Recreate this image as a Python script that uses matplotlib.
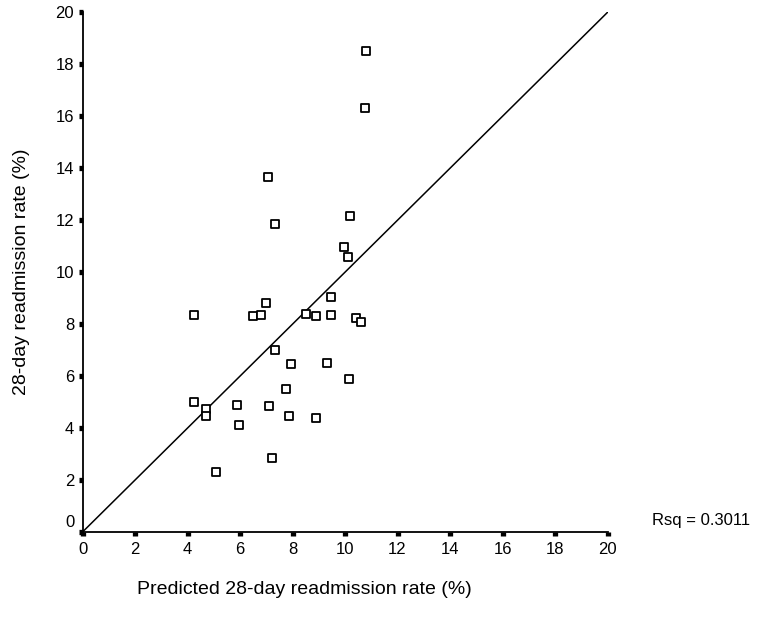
import matplotlib
matplotlib.use("Agg")
import matplotlib.pyplot as plt
import matplotlib.transforms as mtransforms

plt.rcParams['font.family'] = ['Liberation Sans', 'DejaVu Sans']

predicted = [4.25, 4.7, 4.7, 5.9, 5.95, 5.1, 7.1, 7.2, 7.75, 7.85, 8.9,
             7.05, 7.35, 10.2, 9.95, 10.1, 9.45, 7.0, 4.25, 6.5, 6.8, 8.5,
             8.9, 9.45, 10.4, 10.6, 7.35, 7.95, 9.3, 10.15, 10.8, 10.75]
observed = [5.0, 4.75, 4.45, 4.9, 4.1, 2.3, 4.85, 2.85, 5.5, 4.45, 4.4,
            13.65, 11.85, 12.15, 10.95, 10.6, 9.05, 8.8, 8.35, 8.3, 8.35, 8.4,
            8.3, 8.35, 8.25, 8.1, 7.0, 6.45, 6.5, 5.9, 18.5, 16.3]
ticks = [0, 2, 4, 6, 8, 10, 12, 14, 16, 18, 20]
rsq_text = "Rsq = 0.3011"

fig = plt.figure(figsize=(7.67, 6.25), dpi=100)
ax = fig.add_axes([0.1076, 0.1488, 0.6845, 0.8315])

ax.plot([0, 20], [0, 20], color='black', linewidth=1.1, zorder=2)
ax.scatter(predicted, observed, marker='s', s=34, facecolors='white',
           edgecolors='black', linewidths=1.3, zorder=3)

ax.set_xlim(0, 20)
ax.set_ylim(0, 20)
ax.set_xticks(ticks)
ax.set_yticks(ticks)
ax.set_xticklabels([str(t) for t in ticks])
ax.set_yticklabels([str(t) for t in ticks])

for s in ['top', 'right']:
    ax.spines[s].set_visible(False)
for s in ['left', 'bottom']:
    ax.spines[s].set_linewidth(1.3)

ax.tick_params(axis='both', direction='out', length=3, width=3.8,
               labelsize=12, colors='black')
ax.tick_params(axis='x', pad=4)
ax.tick_params(axis='y', pad=3)

# shift the y "0" label up a bit as in the reference
lbl0 = ax.get_yticklabels()[0]
lbl0.set_transform(lbl0.get_transform() + mtransforms.ScaledTranslation(0, 11/100, fig.dpi_scale_trans))

ax.set_xlabel("Predicted 28-day readmission rate (%)", fontsize=14)
ax.xaxis.set_label_coords(0.423, -0.095)
ax.set_ylabel("28-day readmission rate (%)", fontsize=14)
ax.yaxis.set_label_coords(-0.1, 0.5)

fig.text(652/767, 1 - 521/625, rsq_text, fontsize=12, va='center', ha='left')

fig.savefig("out.png", dpi=100)
